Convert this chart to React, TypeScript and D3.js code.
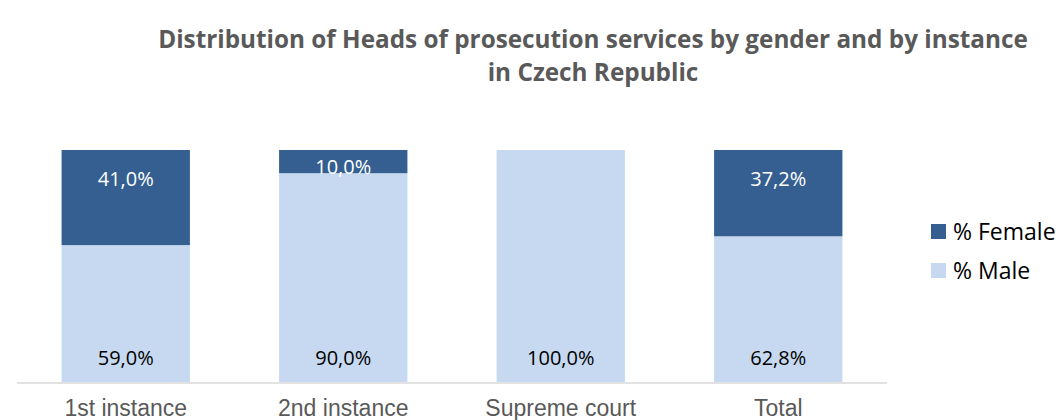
import React from "react";
import * as d3 from "d3";

const categories = ["1st instance", "2nd instance", "Supreme court", "Total"];
const female = [41.0, 10.0, 0, 37.2];
const male = [59.0, 90.0, 100.0, 62.8];
const seriesNames = ["% Female", "% Male"];

const width = 1059;
const height = 420;
const plot = { left: 17, right: 887, top: 150, bottom: 382 };

const FEMALE_COLOR = "#355F91";
const MALE_COLOR = "#C6D9F0";

const fmt = (v: number) => v.toFixed(1).replace(".", ",") + "%";

export default function App() {
  const x = d3
    .scaleBand<string>()
    .domain(categories)
    .range([plot.left, plot.right])
    .paddingInner(0.41)
    .paddingOuter(0.205);

  const y = d3.scaleLinear().domain([0, 100]).range([plot.bottom, plot.top]);

  const rows = categories.map((c, i) => ({ cat: c, female: female[i], male: male[i] }));
  const stacked = d3.stack<any>().keys(["male", "female"])(rows);
  const maleLayer = stacked[0];
  const femaleLayer = stacked[1];

  return (
    <svg
      width={width}
      height={height}
      style={{ position: "absolute", left: 0, top: 0, background: "#fff" }}
    >
      <g fontFamily="'Open Sans', sans-serif" fontWeight="bold" fontSize={24.3} fill="#595959" textAnchor="middle">
        <text x={593} y={48}>
          Distribution of Heads of prosecution services by gender and by instance
        </text>
        <text x={593} y={81}>in Czech Republic</text>
      </g>

      {maleLayer.map((d, i) => (
        <rect
          key={"m" + i}
          x={x(categories[i])}
          y={y(d[1])}
          width={x.bandwidth()}
          height={y(d[0]) - y(d[1])}
          fill={MALE_COLOR}
        />
      ))}
      {femaleLayer.map((d, i) =>
        d[1] - d[0] > 0 ? (
          <rect
            key={"f" + i}
            x={x(categories[i])}
            y={y(d[1])}
            width={x.bandwidth()}
            height={y(d[0]) - y(d[1])}
            fill={FEMALE_COLOR}
          />
        ) : null
      )}

      <line x1={plot.left} x2={plot.right} y1={plot.bottom + 1} y2={plot.bottom + 1} stroke="#D9D9D9" strokeWidth={1.5} />

      <g fontFamily="'Open Sans', sans-serif" fontSize={20} textAnchor="middle">
        {femaleLayer.map((d, i) => {
          if (d[1] - d[0] <= 0) return null;
          const cy = Math.min(y(d[1]) + 29, y(d[0]) - 6);
          return (
            <text key={"fl" + i} x={x(categories[i])! + x.bandwidth() / 2} y={cy} dy="0.35em" fill="#fff">
              {fmt(female[i])}
            </text>
          );
        })}
        {maleLayer.map((d, i) => (
          <text key={"ml" + i} x={x(categories[i])! + x.bandwidth() / 2} y={y(d[0]) - 24} dy="0.35em" fill="#000">
            {fmt(male[i])}
          </text>
        ))}
      </g>

      <g fontFamily="'Liberation Sans', Arial, sans-serif" fontSize={23} fill="#595959" textAnchor="middle">
        {categories.map((c) => (
          <text key={c} x={x(c)! + x.bandwidth() / 2} y={416}>
            {c}
          </text>
        ))}
      </g>

      <g fontFamily="'Open Sans', sans-serif" fontSize={23}>
        {seriesNames.map((s, i) => (
          <g key={s} transform={`translate(931,${224 + i * 39})`}>
            <rect width={15} height={15} fill={i === 0 ? FEMALE_COLOR : MALE_COLOR} />
            <text x={22} y={7.5} dy="0.35em" fill="#000">
              {s}
            </text>
          </g>
        ))}
      </g>
    </svg>
  );
}
